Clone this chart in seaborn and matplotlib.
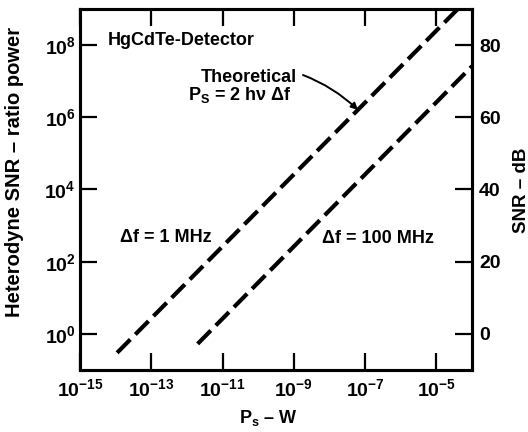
import numpy as np
import pandas as pd
import matplotlib
matplotlib.use("Agg")
import matplotlib.pyplot as plt
import seaborn as sns

sns.set_style("ticks")
plt.rcParams['font.family'] = ['Liberation Sans', 'DejaVu Sans']
plt.rcParams['font.weight'] = 'bold'
plt.rcParams['mathtext.fontset'] = 'custom'
plt.rcParams['mathtext.rm'] = 'Liberation Sans:bold'
plt.rcParams['mathtext.it'] = 'Liberation Sans:bold:italic'
plt.rcParams['mathtext.bf'] = 'Liberation Sans:bold'
plt.rcParams['mathtext.default'] = 'regular'
for key in ['text.color', 'axes.labelcolor', 'xtick.color', 'ytick.color',
            'axes.edgecolor', 'xtick.labelcolor', 'ytick.labelcolor']:
    plt.rcParams[key] = 'black'

# Data (end points of the straight log-log lines)
bandwidths = ["1 MHz", "100 MHz"]
ps_1mhz = [1.1e-14, 4.8e-5]
snr_1mhz = [0.3, 1.2e9]
ps_100mhz = [2.0e-12, 1.0e-4]
snr_100mhz = [0.53, 2.6e7]

x_ticks = [1e-15, 1e-13, 1e-11, 1e-9, 1e-7, 1e-5]
x_labels = ["$10^{-15}$", "$10^{-13}$", "$10^{-11}$", "$10^{-9}$", "$10^{-7}$", "$10^{-5}$"]
y_ticks = [1e0, 1e2, 1e4, 1e6, 1e8]
y_labels = ["$10^{0}$", "$10^{2}$", "$10^{4}$", "$10^{6}$", "$10^{8}$"]
db_ticks = [0, 20, 40, 60, 80]

df = pd.DataFrame({
    "Ps": ps_1mhz + ps_100mhz,
    "SNR": snr_1mhz + snr_100mhz,
    "bw": [bandwidths[0]] * len(ps_1mhz) + [bandwidths[1]] * len(ps_100mhz),
})

W, H = 528, 432
fig = plt.figure(figsize=(W/100, H/100), dpi=100)
ax = fig.add_axes([80/W, 1-370/H, (472-80)/W, (370-9)/H])

def fp(x, y):
    return (x / W, 1 - y / H)

sns.lineplot(data=df, x="Ps", y="SNR", units="bw", estimator=None,
             color="black", lw=3.0, ax=ax, legend=False)
for ln in ax.get_lines():
    ln.set_dashes([4.5, 1.7])
    ln.set_dash_capstyle('butt')

ax.set_xscale("log")
ax.set_yscale("log")
ax.set_xlim(1e-15, 1e-4)
ax.set_ylim(1e-1, 1e9)
ax.set_xticks(x_ticks)
ax.set_xticklabels(x_labels)
ax.set_yticks(y_ticks)
ax.set_yticklabels(y_labels)
ax.minorticks_off()
ax.tick_params(axis='x', which='major', direction='in', length=12.5, width=1.6,
               top=True, labelsize=14, pad=6)
ax.tick_params(axis='y', which='major', direction='in', length=12.5, width=1.6,
               labelsize=14, pad=3)
for sp in ax.spines.values():
    sp.set_linewidth(2.2)
ax.set_xlabel("")
ax.set_ylabel("")

ax2 = ax.twinx()
ax2.set_ylim(-10, 90)
ax2.set_yticks(db_ticks)
ax2.tick_params(axis='y', direction='in', length=12.5, width=1.6, labelsize=14, pad=5)
for sp in ax2.spines.values():
    sp.set_linewidth(2.2)

tkw = dict(fontsize=13, fontweight='bold')
fig.text(*fp(268, 423), "P$_\\mathregular{s}$ – W", ha='center', va='baseline', **tkw)
fig.text(*fp(15, 172), "Heterodyne SNR – ratio power", ha='center', va='center',
         rotation=90, fontsize=14.5, fontweight='bold')
fig.text(*fp(521, 190), "SNR – dB", ha='center', va='center', rotation=90,
         fontsize=13.5, fontweight='bold')

fig.text(*fp(108, 45), "HgCdTe-Detector", ha='left', va='baseline', **tkw)
fig.text(*fp(297, 82), "Theoretical", ha='right', va='baseline', **tkw)
fig.text(*fp(188, 100), "P$_\\mathregular{S}$ = 2 hν Δf", ha='left', va='baseline', **tkw)
fig.text(*fp(120, 242), "Δf = 1 MHz", ha='left', va='baseline', **tkw)
fig.text(*fp(322, 243), "Δf = 100 MHz", ha='left', va='baseline', **tkw)

ax.annotate("", xy=fp(358, 110), xycoords='figure fraction',
            xytext=fp(303, 75), textcoords='figure fraction',
            arrowprops=dict(arrowstyle="-|>", color="black", lw=1.4,
                            connectionstyle="arc3,rad=-0.1", mutation_scale=10,
                            shrinkA=0, shrinkB=0))

fig.savefig("out.png", dpi=100)
